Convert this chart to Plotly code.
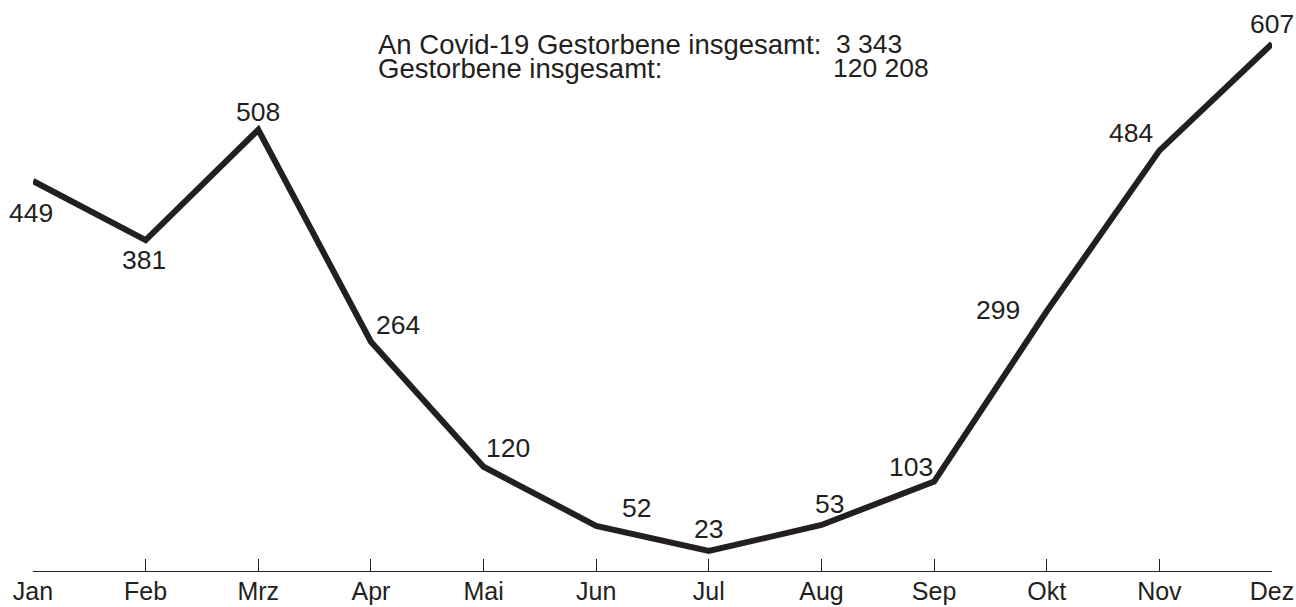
import plotly.graph_objects as go

months = ["Jan", "Feb", "Mrz", "Apr", "Mai", "Jun", "Jul", "Aug", "Sep", "Okt", "Nov", "Dez"]
deaths = [449, 381, 508, 264, 120, 52, 23, 53, 103, 299, 484, 607]
header_labels = ["An Covid-19 Gestorbene insgesamt:", "Gestorbene insgesamt:"]
header_values = ["3 343", "120 208"]

# label offsets in pixels from each point (xshift, yshift), text centred
label_shift = [
    (-2, -32), (-2, -20), (0, 18), (27, 17), (24, 19), (40, 18),
    (0, 22), (8, 21), (-23, 15), (-49, 1), (-28, 18), (0, 20),
]

ink = "#231f20"
font_family = "Liberation Sans, Arial, sans-serif"
fsize = 26.5

fig = go.Figure()
fig.add_trace(go.Scatter(
    x=list(range(len(months))), y=deaths, mode="lines",
    line=dict(color=ink, width=6), hoverinfo="skip", showlegend=False,
))

annotations = []
for i, (v, (xs, ys)) in enumerate(zip(deaths, label_shift)):
    annotations.append(dict(
        x=i, y=v, xref="x", yref="y", text=str(v), showarrow=False,
        xanchor="center", yanchor="middle", xshift=xs, yshift=ys,
        font=dict(size=fsize, color=ink, family=font_family),
    ))

L, PW = 33, 1239.0
def px(p):
    return (p - L) / PW

header_rows = [(-38, header_labels[0], header_values[0], 834),
               (-62, header_labels[1], header_values[1], 831)]
for ys, lab, val, xv in header_rows:
    annotations.append(dict(x=px(376), y=1.0, xref="paper", yref="paper", yanchor="middle",
                            xanchor="left", yshift=ys, text=lab, showarrow=False,
                            font=dict(size=27.5, color=ink, family=font_family)))
    annotations.append(dict(x=px(xv), y=1.0, xref="paper", yref="paper", yanchor="middle",
                            xanchor="left", yshift=ys, text=val, showarrow=False,
                            font=dict(size=fsize, color=ink, family=font_family)))

fig.update_layout(
    width=1296, height=607,
    margin=dict(l=L, r=24, t=6, b=36, autoexpand=False),
    paper_bgcolor="white", plot_bgcolor="white",
    annotations=annotations,
    xaxis=dict(
        range=[0, 11], tickmode="array", tickvals=list(range(len(months))), ticktext=months,
        ticks="inside", ticklen=12, tickwidth=1.3, tickcolor=ink, automargin=False,
        showline=True, linecolor=ink, linewidth=1.3, showgrid=False, zeroline=False,
        tickfont=dict(size=25, color=ink, family=font_family), ticklabelstandoff=-2,
    ),
    yaxis=dict(range=[0, 650.5], visible=False, showgrid=False, zeroline=False, automargin=False),
)

fig.write_html("out.html", config={"displayModeBar": False},
               post_script="document.body.style.margin='0';document.body.style.overflow='hidden';")
